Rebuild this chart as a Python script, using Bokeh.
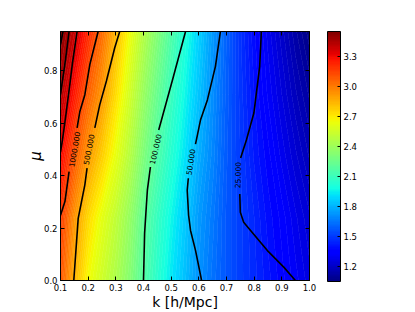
import numpy as np
from bokeh.plotting import figure
from bokeh.models import (ColorBar, LinearColorMapper, FixedTicker, PrintfTickFormatter,
                          LinearAxis, Range1d, ColumnDataSource)
from bokeh.core.properties import value
from bokeh.embed import file_html
from bokeh.resources import INLINE

# ---- colour field (log value) ----
k_grid = [0.10, 0.15, 0.20, 0.25, 0.30, 0.35, 0.40, 0.45, 0.50, 0.55,
          0.60, 0.65, 0.70, 0.75, 0.80, 0.85, 0.90, 0.95, 1.00]
mu_grid = [0.0, 0.24, 0.48, 0.71, 0.95]
field_mu000 = [3.10, 2.85, 2.66, 2.55, 2.45, 2.33, 2.18, 2.05, 1.93, 1.83,
               1.72, 1.64, 1.57, 1.51, 1.46, 1.41, 1.36, 1.31, 1.26]
field_mu024 = [3.17, 2.93, 2.75, 2.62, 2.51, 2.38, 2.22, 2.09, 1.97, 1.86,
               1.74, 1.66, 1.57, 1.51, 1.45, 1.39, 1.34, 1.28, 1.23]
field_mu048 = [3.31, 3.10, 2.92, 2.78, 2.63, 2.48, 2.31, 2.17, 2.04, 1.92,
               1.79, 1.69, 1.58, 1.50, 1.42, 1.36, 1.29, 1.23, 1.17]
field_mu071 = [3.44, 3.26, 3.07, 2.92, 2.74, 2.56, 2.39, 2.24, 2.10, 1.97,
               1.84, 1.71, 1.59, 1.49, 1.40, 1.32, 1.25, 1.18, 1.12]
field_mu095 = [3.53, 3.40, 3.22, 3.04, 2.84, 2.65, 2.47, 2.32, 2.17, 2.02,
               1.88, 1.74, 1.60, 1.48, 1.38, 1.29, 1.21, 1.13, 1.06]

# ---- black contour lines (NaN = label gap) ----
nan = float("nan")
line_a_k = [0.109, 0.100]
line_a_mu = [0.95, 0.900]
line_b_k = [0.131, 0.118, 0.105, 0.100]
line_b_mu = [0.95, 0.843, 0.747, 0.709]
line_c_k = [0.160, 0.143, 0.129, 0.118, 0.107, 0.100]
line_c_mu = [0.95, 0.827, 0.709, 0.620, 0.536, 0.490]
line_1000_k = [0.236, 0.206, 0.188, 0.170, 0.160, nan, 0.131, 0.116, 0.100]
line_1000_mu = [0.95, 0.824, 0.709, 0.645, 0.582, nan, 0.415, 0.301, 0.249]
line_500_k = [0.314, 0.296, 0.266, 0.242, 0.224, nan, 0.196, 0.188, 0.176, 0.164, 0.158, 0.148]
line_500_mu = [0.95, 0.888, 0.761, 0.671, 0.582, nan, 0.429, 0.365, 0.301, 0.237, 0.148, 0.0]
line_100_k = [0.552, 0.504, 0.455, nan, 0.425, 0.414, 0.404, 0.400]
line_100_mu = [0.95, 0.762, 0.574, nan, 0.433, 0.345, 0.180, 0.0]
line_50_k = [0.678, 0.660, 0.631, 0.606, 0.588, nan, 0.562, 0.558, 0.563, 0.570, 0.588, 0.610]
line_50_mu = [0.95, 0.817, 0.689, 0.612, 0.520, nan, 0.390, 0.345, 0.249, 0.191, 0.115, 0.0]
line_25_k = [0.826, 0.820, 0.799, 0.772, 0.751, nan, 0.748, 0.750, 0.762, 0.787, 0.847, 0.907, 0.949]
line_25_mu = [0.95, 0.817, 0.639, 0.536, 0.467, nan, 0.330, 0.260, 0.222, 0.191, 0.115, 0.051, 0.0]

label_text = ["1000.000", "500.000", "100.000", "50.000", "25.000"]
label_k = [0.150, 0.202, 0.443, 0.570, 0.741]
label_mu = [0.500, 0.500, 0.501, 0.452, 0.402]
label_angle = [80, 79, 77, 81, 89]

x_ticks = [0.1, 0.2, 0.3, 0.4, 0.5, 0.6, 0.7, 0.8, 0.9, 1.0]
y_ticks = [0.0, 0.2, 0.4, 0.6, 0.8]
cb_ticks = [1.2, 1.5, 1.8, 2.1, 2.4, 2.7, 3.0, 3.3]
cb_low, cb_high = 1.05, 3.55

# ---- jet colormap ----
def jet(t):
    t = np.clip(t, 0, 1)
    r = np.interp(t, [0, 0.35, 0.66, 0.89, 1], [0, 0, 1, 1, 0.5])
    g = np.interp(t, [0, 0.125, 0.375, 0.64, 0.91, 1], [0, 0, 1, 1, 0, 0])
    b = np.interp(t, [0, 0.11, 0.34, 0.65, 1], [0.5, 1, 1, 0, 0])
    return "#%02x%02x%02x" % (int(round(r * 255)), int(round(g * 255)), int(round(b * 255)))

n_bands = 100
levels = [cb_low + (cb_high - cb_low) * i / n_bands for i in range(n_bands + 1)]
band_colors = [jet(((levels[i] + levels[i + 1]) / 2 - cb_low) / (cb_high - cb_low))
               for i in range(n_bands)]
level_colors = [jet((lv - cb_low) / (cb_high - cb_low)) for lv in levels]

FONT = "DejaVu Sans"

p = figure(frame_width=249, frame_height=249,
           x_range=Range1d(0.1, 1.0), y_range=Range1d(0.0, 0.95),
           output_backend="svg", toolbar_location=None,
           min_border_left=60, min_border_top=31, min_border_bottom=0,
           min_border_right=10)
p.xgrid.visible = False
p.ygrid.visible = False
p.outline_line_color = "black"
p.outline_line_width = 1
p.background_fill_color = "white"
p.border_fill_color = "white"

z = np.array([field_mu000, field_mu024, field_mu048, field_mu071, field_mu095])
p.contour(x=np.array(k_grid), y=np.array(mu_grid), z=z, levels=levels,
          fill_color=band_colors, line_color=level_colors, line_width=0.8)

segs_x = [line_a_k, line_b_k, line_c_k, line_1000_k, line_500_k, line_100_k, line_50_k, line_25_k]
segs_y = [line_a_mu, line_b_mu, line_c_mu, line_1000_mu, line_500_mu, line_100_mu, line_50_mu, line_25_mu]
for xs, ys in zip(segs_x, segs_y):
    p.line(xs, ys, line_color="black", line_width=1.6)

lab_src = ColumnDataSource(dict(x=label_k, y=label_mu, text=label_text, angle=label_angle))
p.text(x="x", y="y", text="text", angle="angle", angle_units="deg", source=lab_src,
       text_align="center", text_baseline="middle", text_color="black",
       text_font=value(FONT), text_font_size=value("7.5px"))

def style_axis(ax, ticks, show_labels=True):
    ax.ticker = FixedTicker(ticks=ticks)
    ax.formatter = PrintfTickFormatter(format="%.1f")
    ax.major_tick_in = 4
    ax.major_tick_out = 0
    ax.minor_tick_line_color = None
    ax.axis_line_color = "black"
    ax.major_tick_line_color = "black"
    ax.major_label_text_font = FONT
    ax.major_label_text_font_size = "8.5px"
    ax.major_label_text_color = "black"
    ax.major_label_standoff = 3
    if not show_labels:
        ax.major_label_overrides = {t: " " for t in ticks}
        ax.major_label_text_font_size = "1px"
        ax.major_label_standoff = 0

style_axis(p.xaxis[0], x_ticks)
style_axis(p.yaxis[0], y_ticks)
p.xaxis[0].axis_label = "k [h/Mpc]"
p.xaxis[0].axis_label_text_font = FONT
p.xaxis[0].axis_label_text_font_size = "14px"
p.xaxis[0].axis_label_text_font_style = "normal"
p.xaxis[0].axis_label_text_color = "black"
p.xaxis[0].axis_label_standoff = 0
p.yaxis[0].axis_label = "μ"
p.yaxis[0].axis_label_text_font = FONT
p.yaxis[0].axis_label_text_font_size = "15px"
p.yaxis[0].axis_label_text_font_style = "italic"
p.yaxis[0].axis_label_text_color = "black"
p.yaxis[0].axis_label_standoff = -4

top_ax = LinearAxis()
style_axis(top_ax, x_ticks, show_labels=False)
p.add_layout(top_ax, "above")
right_ax = LinearAxis()
style_axis(right_ax, y_ticks, show_labels=False)
right_ax.major_label_standoff = 15
p.add_layout(right_ax, "right")

mapper = LinearColorMapper(palette=band_colors, low=cb_low, high=cb_high)
cb = ColorBar(color_mapper=mapper, ticker=FixedTicker(ticks=cb_ticks),
              formatter=PrintfTickFormatter(format="%.1f"),
              width=13, height=250, margin=0, padding=0,
              bar_line_color="black", bar_line_width=1,
              major_tick_line_color="black", major_tick_in=3, major_tick_out=0,
              minor_tick_line_color=None,
              major_label_text_font=FONT, major_label_text_font_size="8.5px",
              major_label_text_color="black", label_standoff=3,
              border_line_color=None, background_fill_color=None)
p.add_layout(cb, "right")

open("out.html", "w").write(file_html(p, INLINE))
